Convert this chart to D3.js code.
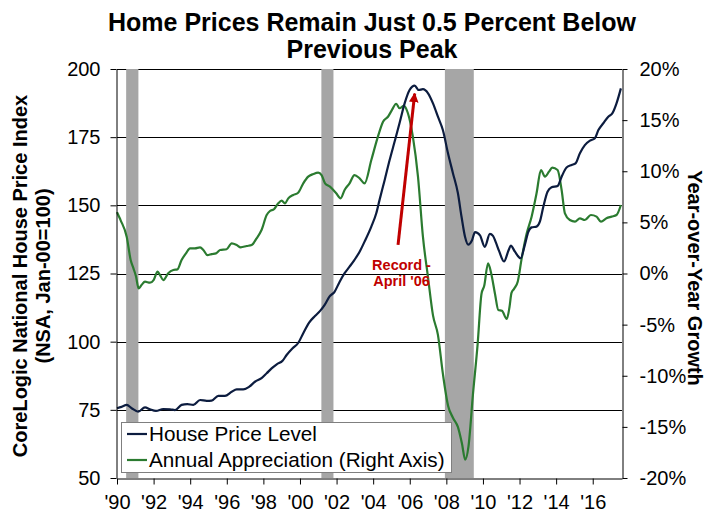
<!DOCTYPE html>
<html><head><meta charset="utf-8">
<script src="https://cdn.jsdelivr.net/npm/d3@7"></script>
<style>
body{margin:0;background:#fff}
svg{display:block}
text{font-family:"Liberation Sans",Arial,Helvetica,sans-serif}
</style>
</head><body>
<svg id="chart" width="707" height="512"></svg>
<script>
// ---------- DATA ----------
const titleLines = ["Home Prices Remain Just 0.5 Percent Below", "Previous Peak"];
const leftAxisTitle = ["CoreLogic National House Price Index", "(NSA, Jan-00=100)"];
const rightAxisTitle = "Year-over-Year Growth";
const seriesNames = ["House Price Level", "Annual Appreciation (Right Axis)"];

const xTickYears  = [1990,1992,1994,1996,1998,2000,2002,2004,2006,2008,2010,2012,2014,2016];
const xTickLabels = ["'90","'92","'94","'96","'98","'00","'02","'04","'06","'08","'10","'12","'14","'16"];
const leftTicks  = [50,75,100,125,150,175,200];
const rightTicks = [-20,-15,-10,-5,0,5,10,15,20];

const recessionStart = [1990.50, 2001.17, 2007.92];
const recessionEnd   = [1991.17, 2001.83, 2009.50];

// House price level (left axis), time in decimal years
const hpiTime = [1990.00,1990.25,1990.53,1990.80,1991.16,1991.53,1991.80,1992.13,1992.53,1992.90,
  1993.17,1993.53,1993.84,1994.17,1994.54,1994.90,1995.17,1995.54,1995.90,1996.27,
  1996.54,1996.90,1997.23,1997.54,1997.90,1998.18,1998.45,1998.73,1999.05,1999.27,
  1999.60,1999.91,2000.18,2000.50,2000.82,2001.10,2001.35,2001.62,2001.89,2002.17,
  2002.44,2002.71,2002.98,2003.26,2003.53,2003.90,2004.17,2004.35,2004.63,2004.90,
  2005.17,2005.44,2005.72,2005.99,2006.27,2006.49,2006.72,2007.00,2007.27,2007.54,
  2007.81,2008.09,2008.36,2008.63,2008.83,2009.02,2009.20,2009.39,2009.57,2009.84,
  2010.10,2010.38,2010.55,2010.70,2010.88,2011.15,2011.40,2011.52,2011.75,2012.06,
  2012.29,2012.48,2012.66,2012.93,2013.11,2013.30,2013.53,2013.75,2014.08,2014.30,
  2014.57,2014.85,2015.06,2015.30,2015.57,2015.85,2016.12,2016.31,2016.58,2016.85,
  2017.07,2017.30,2017.54];
const hpiValue = [75.6,76.1,76.8,75.6,74.3,75.9,75.2,74.6,75.3,75.2,
  74.9,76.8,77.1,76.8,78.6,78.3,78.4,80.1,80.1,81.6,
  82.5,82.5,83.5,85.3,86.6,88.4,90.2,91.7,93.0,95.1,
  97.6,99.6,103.1,107.0,109.4,111.3,113.5,116.6,118.3,122.0,
  125.1,127.5,130.0,133.0,136.7,142.2,147.1,152.0,159.3,166.6,
  173.3,180.1,187.4,192.3,193.9,192.3,192.6,191.1,187.4,182.5,
  177.6,169.1,161.8,154.5,145.8,138.5,135.6,137.0,140.2,139.0,
  134.8,139.5,138.8,136.5,133.3,129.4,133.5,135.2,133.0,130.6,
  135.5,140.3,141.9,142.2,144.0,149.5,155.0,156.6,157.1,160.5,
  163.9,164.8,165.4,169.1,172.1,173.7,174.6,177.6,180.1,182.5,
  183.7,187.4,192.9];

// Annual appreciation (right axis, percent)
const yoyTime = [1990.00,1990.10,1990.20,1990.53,1990.75,1990.90,1991.04,1991.18,1991.35,1991.53,
  1991.80,1992.00,1992.22,1992.35,1992.53,1992.80,1993.08,1993.30,1993.53,1993.77,
  1993.99,1994.26,1994.54,1994.72,1994.94,1995.17,1995.41,1995.63,1995.99,1996.27,
  1996.54,1996.76,1997.09,1997.36,1997.63,1997.90,1998.18,1998.36,1998.58,1998.81,
  1999.00,1999.18,1999.36,1999.63,1999.90,2000.18,2000.45,2000.73,2001.00,2001.18,
  2001.37,2001.64,2001.98,2002.22,2002.44,2002.71,2002.98,2003.26,2003.53,2003.90,
  2004.26,2004.54,2004.81,2005.03,2005.26,2005.44,2005.68,2005.90,2006.17,2006.45,
  2006.72,2007.00,2007.27,2007.54,2007.81,2008.09,2008.36,2008.63,2008.85,2009.03,
  2009.21,2009.45,2009.71,2009.92,2010.07,2010.28,2010.44,2010.66,2010.84,2011.04,
  2011.30,2011.45,2011.56,2011.70,2011.90,2012.12,2012.39,2012.66,2012.93,2013.17,
  2013.39,2013.61,2013.79,2014.08,2014.30,2014.48,2014.75,2015.03,2015.30,2015.57,
  2015.90,2016.21,2016.45,2016.75,2017.03,2017.30,2017.54];
const yoyValue = [6.0,5.6,5.2,3.6,1.3,0.5,-0.3,-1.45,-1.1,-0.8,
  -0.9,-0.64,0.18,-0.15,-0.64,0.02,0.34,0.4,1.32,1.97,
  2.46,2.46,2.56,2.3,1.8,1.9,1.97,2.3,2.37,2.95,
  2.79,2.56,2.69,2.79,3.44,4.25,5.72,6.11,6.28,6.86,
  7.12,6.86,7.35,7.68,7.9,8.82,9.47,9.73,9.86,9.63,
  8.82,8.49,7.84,7.35,8.17,8.82,9.63,9.31,8.82,11.1,
  13.38,14.85,15.33,16.0,16.6,16.16,16.4,15.67,13.38,9.47,
  3.6,-0.4,-4.1,-6.0,-9.8,-12.9,-14.1,-15.0,-16.6,-18.2,
  -16.9,-11.9,-6.9,-2.0,-1.2,1.0,0.1,-2.0,-3.57,-3.65,
  -4.45,-3.3,-1.9,-1.5,-0.8,1.5,3.9,5.56,7.84,10.12,
  9.47,9.96,10.35,10.12,8.17,5.89,5.23,5.07,5.4,5.23,
  5.72,5.56,5.07,5.4,5.56,5.72,6.7];

// annotation (arrow from tail to tip, in time / left-axis units)
const annoText = ["Record -", "April '06"];
const arrowFrom = [2005.36, 135.5];
const arrowTo   = [2006.27, 191.0];
const annoTextAt = [2005.55, 126.2];

// ---------- LAYOUT ----------
const plot = {left:117, right:622, top:69, bottom:478};
const colNavy = "#0c1c3f", colGreen = "#2b7b30", colRed = "#c00000", colBar = "#a6a6a6";

const svg = d3.select("#chart");
const x  = d3.scaleLinear().domain([1990, 2017.6]).range([plot.left, plot.right]);
const yL = d3.scaleLinear().domain([50, 200]).range([plot.bottom, plot.top]);
const yR = d3.scaleLinear().domain([-20, 20]).range([plot.bottom, plot.top]);

// gridlines
svg.append("g").selectAll("line").data(leftTicks.filter(d => d > 50)).join("line")
  .attr("x1", plot.left).attr("x2", plot.right)
  .attr("y1", d => Math.round(yL(d)) + 0.5).attr("y2", d => Math.round(yL(d)) + 0.5)
  .attr("stroke", "#000").attr("stroke-width", 1);

// recession bars
svg.append("g").selectAll("rect").data(recessionStart).join("rect")
  .attr("x", (d) => x(d))
  .attr("width", (d, i) => x(recessionEnd[i]) - x(d))
  .attr("y", plot.top).attr("height", plot.bottom - plot.top)
  .attr("fill", colBar);

// lines
const hpiData = hpiTime.map((t, i) => [t, hpiValue[i]]);
const yoyData = yoyTime.map((t, i) => [t, yoyValue[i]]);
svg.append("path").datum(yoyData)
  .attr("d", d3.line().x(d => x(d[0])).y(d => yR(d[1])).curve(d3.curveMonotoneX))
  .attr("fill", "none").attr("stroke", colGreen).attr("stroke-width", 2.2).attr("stroke-linejoin", "round");
svg.append("path").datum(hpiData)
  .attr("d", d3.line().x(d => x(d[0])).y(d => yL(d[1])).curve(d3.curveMonotoneX))
  .attr("fill", "none").attr("stroke", colNavy).attr("stroke-width", 2.2).attr("stroke-linejoin", "round");

// axes
const fontTick = 20;
const gL = svg.append("g").attr("transform", `translate(${plot.left - 0.5},0)`)
  .call(d3.axisLeft(yL).tickValues(leftTicks).tickSize(6).tickSizeOuter(0).tickPadding(10));
const gR = svg.append("g").attr("transform", `translate(${plot.right + 0.5},0)`)
  .call(d3.axisRight(yR).tickValues(rightTicks).tickSize(5).tickSizeOuter(0).tickPadding(12)
    .tickFormat(d => d + "%"));
const gX = svg.append("g").attr("transform", `translate(0,${plot.bottom + 0.5})`)
  .call(d3.axisBottom(x).tickValues(xTickYears).tickSize(6).tickSizeOuter(0).tickPadding(10)
    .tickFormat((d, i) => xTickLabels[i]));
[gL, gR, gX].forEach(g => {
  g.selectAll("text").attr("font-size", fontTick).attr("fill", "#000")
    .attr("font-family", '"Liberation Sans",Arial,sans-serif');
  g.selectAll("line,path").attr("stroke", "#000").attr("stroke-width", 1);
});

// title
const title = svg.append("text").attr("x", 372).attr("text-anchor", "middle")
  .attr("font-weight", "bold").attr("font-size", 25)
  .style("font-family", '"Liberation Sans Narrow","Arial Narrow","Liberation Sans",sans-serif');
titleLines.forEach((t, i) => title.append("tspan").attr("x", 372).attr("y", 31 + i * 27).text(t));

// left axis title
const lt = svg.append("text").attr("transform", "translate(0,276) rotate(-90)")
  .attr("text-anchor", "middle").attr("font-weight", "bold").attr("font-size", 20);
leftAxisTitle.forEach((t, i) => lt.append("tspan").attr("x", 0).attr("y", 27 + i * 23).text(t));

// right axis title
svg.append("text").attr("transform", "translate(688,278) rotate(90)")
  .attr("text-anchor", "middle").attr("font-weight", "bold").attr("font-size", 20)
  .text(rightAxisTitle);

// annotation arrow
const defs = svg.append("defs");
defs.append("marker").attr("id", "ah").attr("viewBox", "0 0 10 10")
  .attr("refX", 9).attr("refY", 5).attr("markerWidth", 3.2).attr("markerHeight", 3.2)
  .attr("orient", "auto").attr("markerUnits", "strokeWidth")
  .append("path").attr("d", "M0,0 L10,5 L0,10 z").attr("fill", colRed);
svg.append("line")
  .attr("x1", x(arrowFrom[0])).attr("y1", yL(arrowFrom[1]))
  .attr("x2", x(arrowTo[0])).attr("y2", yL(arrowTo[1]))
  .attr("stroke", colRed).attr("stroke-width", 3).attr("marker-end", "url(#ah)");
const at = svg.append("text").attr("text-anchor", "middle").attr("font-weight", "bold")
  .attr("font-size", 14.5).attr("fill", colRed);
annoText.forEach((t, i) => at.append("tspan").attr("x", x(annoTextAt[0]))
  .attr("y", yL(annoTextAt[1]) + i * 16).text(t));

// legend
const lg = svg.append("g");
lg.append("rect").attr("x", 121.5).attr("y", 422.5).attr("width", 330).attr("height", 50)
  .attr("fill", "#fff").attr("stroke", "#7f7f7f").attr("stroke-width", 1);
const legColors = [colNavy, colGreen];
seriesNames.forEach((name, i) => {
  const yy = 434 + i * 26;
  lg.append("line").attr("x1", 127).attr("x2", 147).attr("y1", yy).attr("y2", yy)
    .attr("stroke", legColors[i]).attr("stroke-width", 2.2);
  lg.append("text").attr("x", 149).attr("y", yy + 7).attr("font-size", 20.7).text(name);
});
</script>
</body></html>
